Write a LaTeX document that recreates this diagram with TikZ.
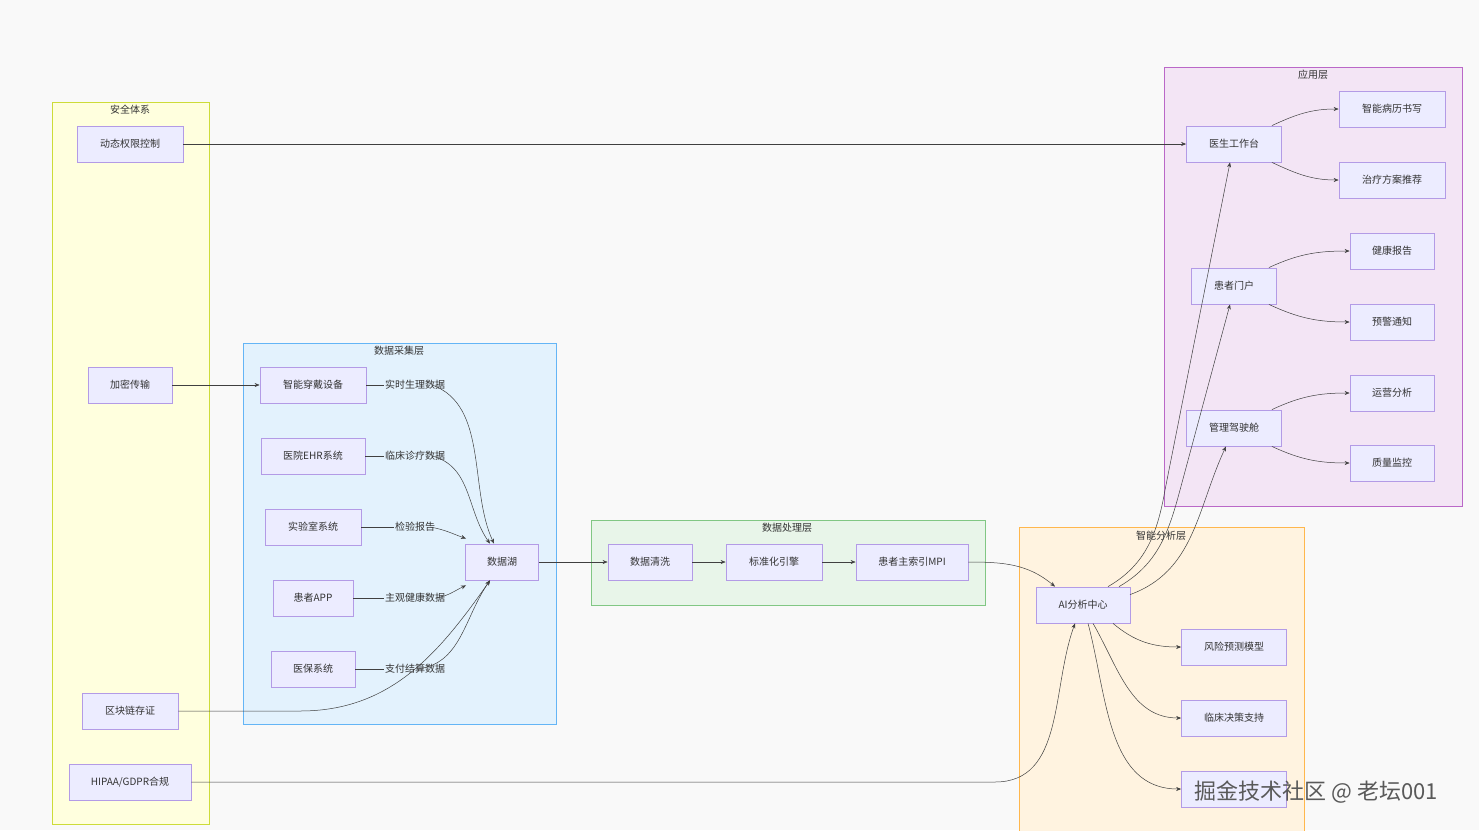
\documentclass[tikz,border=0pt]{standalone}
\usepackage{fontspec}
\setmainfont{Noto Sans CJK SC}
\usetikzlibrary{arrows.meta}
\definecolor{bg}{HTML}{F9F9F9}
\definecolor{nf}{HTML}{ECECFF}
\definecolor{ns}{HTML}{9370DB}
\definecolor{yf}{HTML}{FFFFDE}\definecolor{ys}{HTML}{CDDC39}
\definecolor{bf}{HTML}{E3F2FD}\definecolor{bs}{HTML}{64B5F6}
\definecolor{gf}{HTML}{E8F5E9}\definecolor{gs}{HTML}{81C784}
\definecolor{of}{HTML}{FFF3E0}\definecolor{os}{HTML}{FFB74D}
\definecolor{pf}{HTML}{F3E5F5}\definecolor{ps}{HTML}{BA68C8}
\begin{document}
\begin{tikzpicture}[x=1pt,y=-1pt,
  n/.style={draw=ns!70,fill=nf,line width=0.8pt,minimum height=36pt,inner sep=0pt,font=\fontsize{10}{12}\selectfont,text=black!80},
  grp/.style={line width=0.8pt},
  gt/.style={font=\fontsize{10}{12}\selectfont,text=black!80},
  lb/.style={font=\fontsize{10}{12}\selectfont,text=black!80,inner sep=1pt},
  e/.style={draw=black!75,line width=0.5pt,-{Stealth[length=5pt,width=4pt]}},
  l/.style={draw=black!75,line width=0.5pt}]
\fill[bg] (0,0) rectangle (1479,830);
\useasboundingbox (0,0) rectangle (1479,830);
% groups
\draw[grp,draw=ys,fill=yf] (52,102) rectangle (209,824);
\node[gt] (g1) at (130,110) {安全体系};
\draw[grp,draw=bs,fill=bf] (243,343) rectangle (556,724);
\node[gt] (g2) at (399,351) {数据采集层};
\draw[grp,draw=gs,fill=gf] (591,520) rectangle (985,605);
\node[gt] (g3) at (787,528) {数据处理层};
\draw[grp,draw=os,fill=of] (1019,527) rectangle (1304,835);
\node[gt] (g4) at (1161,536) {智能分析层};
\draw[grp,draw=ps,fill=pf] (1164,67) rectangle (1462,506);
\node[gt] (g5) at (1313,75) {应用层};
% security
\node[n,minimum width=106pt] (qx) at (130,144) {动态权限控制};
\node[n,minimum width=84pt] (jm) at (130,385) {加密传输};
\node[n,minimum width=96pt] (qk) at (130,711) {区块链存证};
\node[n,minimum width=122pt] (hp) at (130,782) {HIPAA/GDPR合规};
% collection
\node[n,minimum width=106pt] (s1) at (313,385) {智能穿戴设备};
\node[n,minimum width=104pt] (s2) at (313,456) {医院EHR系统};
\node[n,minimum width=96pt] (s3) at (313,527) {实验室系统};
\node[n,minimum width=80pt] (s4) at (313,598) {患者APP};
\node[n,minimum width=84pt] (s5) at (313,669) {医保系统};
\node[n,minimum width=73pt] (dl) at (502,562) {数据湖};
% processing
\node[n,minimum width=84pt] (p1) at (650,562) {数据清洗};
\node[n,minimum width=96pt] (p2) at (774,562) {标准化引擎};
\node[n,minimum width=112pt] (p3) at (912,562) {患者主索引MPI};
% analysis
\node[n,minimum width=94pt] (ai) at (1083,605) {AI分析中心};
\node[n,minimum width=105pt] (a1) at (1234,647) {风险预测模型};
\node[n,minimum width=105pt] (a2) at (1234,718) {临床决策支持};
\node[n,minimum width=105pt] (a3) at (1234,789) {};
% app
\node[n,minimum width=95pt] (d) at (1234,144) {医生工作台};
\node[n,minimum width=85pt] (pp) at (1234,286) {患者门户};
\node[n,minimum width=95pt] (m) at (1234,428) {管理驾驶舱};
\node[n,minimum width=106pt] (d1) at (1392,109) {智能病历书写};
\node[n,minimum width=106pt] (d2) at (1392,180) {治疗方案推荐};
\node[n,minimum width=84pt] (q1) at (1392,251) {健康报告};
\node[n,minimum width=84pt] (q2) at (1392,322) {预警通知};
\node[n,minimum width=84pt] (m1) at (1392,393) {运营分析};
\node[n,minimum width=84pt] (m2) at (1392,463) {质量监控};
% edge labels
\node[lb,fill=bf] (t1) at (415,385) {实时生理数据};
\node[lb,fill=bf] (t2) at (415,456) {临床诊疗数据};
\node[lb,fill=bf] (t3) at (415,527) {检验报告};
\node[lb,fill=bf] (t4) at (415,598) {主观健康数据};
\node[lb,fill=bf] (t5) at (415,669) {支付结算数据};
% edges
\draw[e] (qx) -- (d);
\draw[e] (jm) -- (s1);
\draw[l] (s1) -- (t1); \draw[e] ([xshift=-14pt]t1.east) to[out=-20,in=115,looseness=0.9] ([xshift=-8pt]dl.north);
\draw[l] (s2) -- (t2); \draw[e] ([xshift=-14pt]t2.east) to[out=-15,in=125] ([xshift=-12pt]dl.north);
\draw[l] (s3) -- (t3); \draw[e] ([xshift=-6pt]t3.east) to[out=-10,in=160] ([xshift=-36pt,yshift=5pt]dl.north);
\draw[l] (s4) -- (t4); \draw[e] ([xshift=-10pt]t4.east) to[out=10,in=205] ([xshift=-36pt,yshift=-5pt]dl.south);
\draw[l] (s5) -- (t5); \draw[e] ([xshift=-30pt]t5.east) to[out=5,in=235] ([xshift=-12pt]dl.south);
\draw[e] (qk.east) -- (300,711) to[out=0,in=235] ([xshift=-12pt]dl.south);
\draw[e] (hp.east) -- (995,782) to[out=0,in=250] ([xshift=-8pt]ai.south);
\draw[e] (dl) -- (p1);
\draw[e] (p1) -- (p2);
\draw[e] (p2) -- (p3);
\draw[e] (p3.east) to[out=0,in=140] ([xshift=-28pt]ai.north);
\draw[e] ([xshift=25pt]ai.north) to[out=30,in=-100] (1165,490) -- ([xshift=-4pt]d.south);
\draw[e] ([xshift=36pt]ai.north) to[out=30,in=-105] (1180,490) -- ([xshift=-4pt]pp.south);
\draw[e] ([xshift=47pt,yshift=-8pt]ai.north) to[out=20,in=-115] ([xshift=-8pt]m.south);
\draw[e] ([xshift=30pt]ai.south) to[out=-40,in=180] (a1.west);
\draw[e] ([xshift=10pt]ai.south) to[out=-60,in=180] (a2.west);
\draw[e] ([xshift=5pt]ai.south) to[out=-75,in=180] (a3.west);
\draw[e] ([xshift=-10pt]d.north east) to[out=25,in=180] (d1.west);
\draw[e] ([xshift=-10pt]d.south east) to[out=-25,in=180] (d2.west);
\draw[e] ([xshift=-8pt]pp.north east) to[out=25,in=180] (q1.west);
\draw[e] ([xshift=-8pt]pp.south east) to[out=-25,in=180] (q2.west);
\draw[e] ([xshift=-10pt]m.north east) to[out=25,in=180] (m1.west);
\draw[e] ([xshift=-10pt]m.south east) to[out=-25,in=180] (m2.west);
% watermark
\node[font=\fontsize{22}{24}\selectfont,text=black!65] (wm) at (1316,792) {掘金技术社区 @ 老坛001};
\end{tikzpicture}
\end{document}
